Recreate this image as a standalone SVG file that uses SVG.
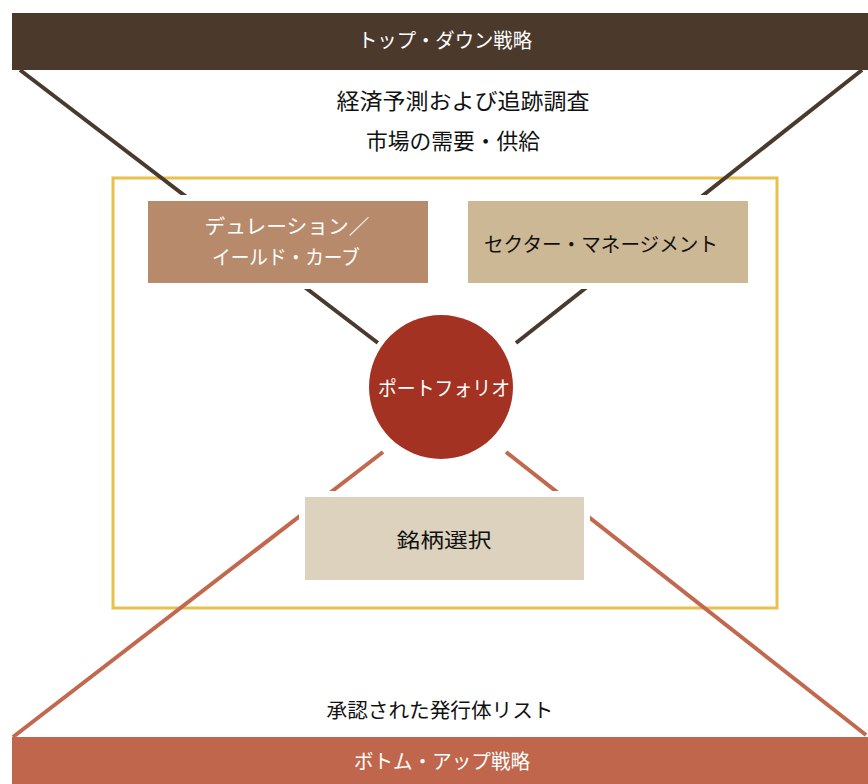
<svg xmlns="http://www.w3.org/2000/svg" width="868" height="784" viewBox="0 0 868 784">
<style>
text{font-family:"Noto Sans CJK JP","Noto Sans CJK SC",sans-serif;font-size:20px;text-anchor:middle}
.w{fill:#ffffff}
.k{fill:#111111}
.big{font-size:22px}
.dl{stroke:#4a3a2d;stroke-width:4;fill:none}
.ol{stroke:#c2684f;stroke-width:4;fill:none}
.halo{stroke:#ffffff;stroke-width:12;paint-order:stroke}
</style>
<rect width="868" height="784" fill="#ffffff"/>
<g id="frame"><rect x="113" y="178" width="664" height="430" fill="none" stroke="#e8c04c" stroke-width="3"/></g>
<g id="connectors">
<line class="dl" x1="20" y1="70" x2="378" y2="343"/>
<line class="dl" x1="862" y1="70" x2="516" y2="343"/>
<line class="ol" x1="383" y1="452" x2="13" y2="737"/>
<line class="ol" x1="506" y1="452" x2="866" y2="735"/>
</g>
<g id="top-strategy">
<rect x="12" y="13" width="856" height="57" fill="#4b3a2c"/>
<text class="w" x="445" y="48" textLength="174" lengthAdjust="spacingAndGlyphs">トップ・ダウン戦略</text>
</g>
<g id="top-labels">
<text class="k big" x="463" y="109" textLength="253" lengthAdjust="spacingAndGlyphs">経済予測および追跡調査</text>
<text class="k big" x="453" y="149" textLength="174" lengthAdjust="spacingAndGlyphs">市場の需要・供給</text>
</g>
<g id="duration">
<rect class="halo" x="148" y="201" width="280" height="82" fill="#b88a6c"/>
<text class="w" x="287" y="234" textLength="165" lengthAdjust="spacingAndGlyphs">デュレーション／</text>
<text class="w" x="286" y="265" textLength="148" lengthAdjust="spacingAndGlyphs">イールド・カーブ</text>
</g>
<g id="sector">
<rect class="halo" x="468" y="201" width="280" height="82" fill="#ccb895"/>
<text class="k" x="601" y="252" textLength="234" lengthAdjust="spacingAndGlyphs">セクター・マネージメント</text>
</g>
<g id="portfolio">
<circle cx="441" cy="387" r="72" fill="#a33222" stroke="#ffffff" stroke-width="10" paint-order="stroke"/>
<text class="w" x="444" y="396" textLength="132" lengthAdjust="spacingAndGlyphs">ポートフォリオ</text>
</g>
<g id="stock-selection">
<rect class="halo" x="305" y="497" width="279" height="83" fill="#dcd2bd"/>
<text class="k" x="444" y="548" textLength="95" lengthAdjust="spacingAndGlyphs">銘柄選択</text>
</g>
<g id="bottom-label">
<text class="k" x="440" y="718" textLength="227" lengthAdjust="spacingAndGlyphs">承認された発行体リスト</text>
</g>
<g id="bottom-strategy">
<rect x="12" y="737" width="856" height="47" fill="#c0664c"/>
<text class="w" x="442" y="769" textLength="176" lengthAdjust="spacingAndGlyphs">ボトム・アップ戦略</text>
</g>
</svg>
